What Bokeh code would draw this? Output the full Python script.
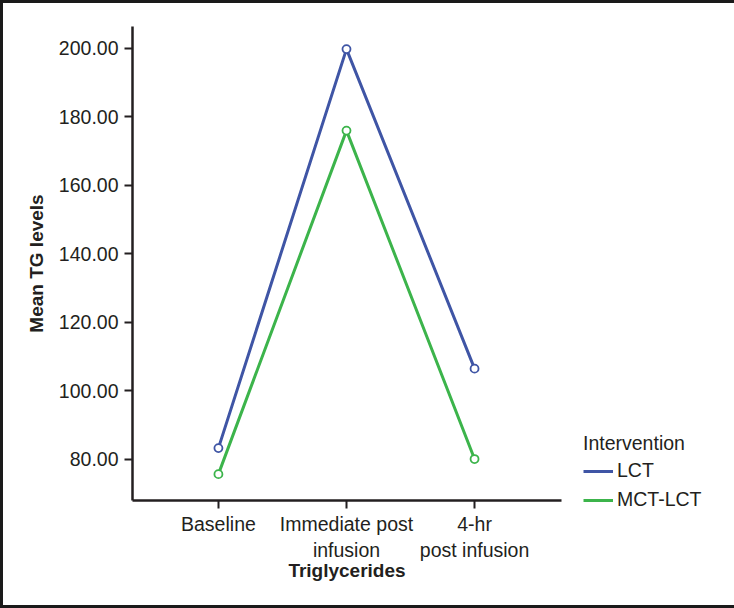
from bokeh.plotting import figure
from bokeh.models import Range1d, FixedTicker, Legend, LegendItem
from bokeh.embed import file_html
from bokeh.resources import INLINE

categories = ["Baseline", "Immediate post\ninfusion", "4-hr\npost infusion"]
lct = [83.2, 199.7, 106.4]
mct_lct = [75.6, 175.9, 80.0]
y_ticks = [80, 100, 120, 140, 160, 180, 200]

FONT = "Liberation Sans"
TXT = "#231f20"
BLUE = "#3f55a5"
GREEN = "#3cb44b"

xs = list(range(len(categories)))

p = figure(frame_width=429, frame_height=474, output_backend="svg", toolbar_location=None,
           x_range=Range1d(-0.671, 2.679), y_range=Range1d(67.9, 206.3),
           min_border_left=129, min_border_right=170, min_border_top=23, min_border_bottom=105)
p.outline_line_color = None
p.grid.visible = False
p.background_fill_color = "white"
p.border_fill_color = "white"
p.styles = {"border": "3px solid #1a1a1a"}

r1 = p.line(xs, lct, line_color=BLUE, line_width=3)
p.scatter(xs, lct, size=8, fill_color="white", line_color=BLUE, line_width=1.8)
r2 = p.line(xs, mct_lct, line_color=GREEN, line_width=3)
p.scatter(xs, mct_lct, size=8, fill_color="white", line_color=GREEN, line_width=1.8)

for ax in (p.xaxis[0], p.yaxis[0]):
    ax.axis_line_width = 2.5
    ax.axis_line_color = TXT
    ax.major_tick_line_width = 2
    ax.major_tick_line_color = TXT
    ax.major_tick_out = 8
    ax.major_tick_in = 0
    ax.minor_tick_line_color = None
    ax.major_label_text_font = FONT
    ax.major_label_text_font_size = "19.5px"
    ax.major_label_text_color = TXT
    ax.axis_label_text_font = FONT
    ax.axis_label_text_font_size = "19px"
    ax.axis_label_text_font_style = "bold"
    ax.axis_label_text_color = TXT

p.xaxis.ticker = FixedTicker(ticks=xs)
p.xaxis.major_label_overrides = {i: c for i, c in zip(xs, categories)}
p.xaxis.axis_label = "Triglycerides"
p.xaxis.major_label_standoff = 4
p.xaxis.axis_label_standoff = -4

p.yaxis.ticker = FixedTicker(ticks=y_ticks)
p.yaxis.major_label_standoff = 6
p.yaxis.major_label_overrides = {t: f"{t:.2f}" for t in y_ticks}
p.yaxis.axis_label = "Mean TG levels"
p.yaxis.axis_label_standoff = 9

legend = Legend(items=[LegendItem(label="LCT", renderers=[r1]),
                       LegendItem(label="MCT-LCT", renderers=[r2])],
                location=(22, -11), title="Intervention")
legend.title_text_font = FONT
legend.title_text_font_size = "19.5px"
legend.title_text_font_style = "normal"
legend.title_text_color = TXT
legend.title_standoff = 4
legend.label_text_font = FONT
legend.label_text_font_size = "19.5px"
legend.label_text_color = TXT
legend.glyph_width = 30
legend.glyph_height = 20
legend.label_standoff = 4
legend.spacing = 6
legend.padding = 0
legend.margin = 0
legend.border_line_color = None
legend.background_fill_alpha = 0
p.add_layout(legend, "right")

open("out.html", "w").write(file_html(p, INLINE))
